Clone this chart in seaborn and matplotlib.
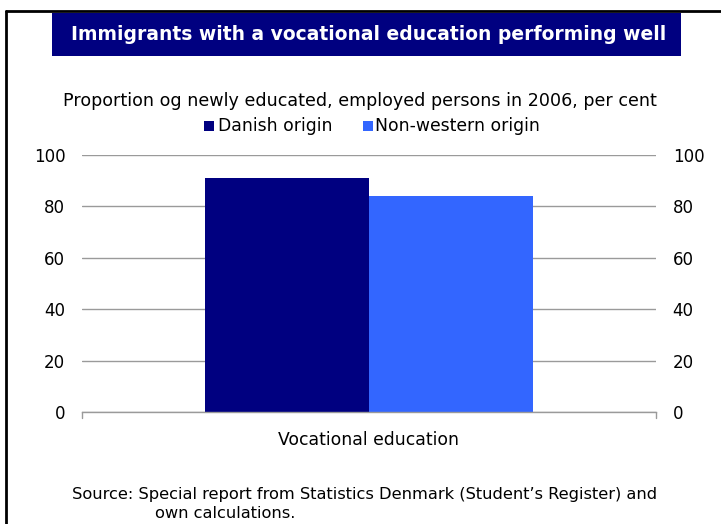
import matplotlib
matplotlib.use("Agg")
import matplotlib.pyplot as plt
from matplotlib.lines import Line2D
from matplotlib.patches import Rectangle
import seaborn as sns
import pandas as pd

# Data
categories = ["Vocational education"]
series_names = ["Danish origin", "Non-western origin"]
danish_origin = [91]
non_western_origin = [84]
y_ticks = [0, 20, 40, 60, 80, 100]

colors = ["#000080", "#3366FF"]

df = pd.DataFrame({
    "category": categories * 2,
    "origin": [series_names[0]] * len(categories) + [series_names[1]] * len(categories),
    "value": danish_origin + non_western_origin,
})

sns.set_theme(style="white")
plt.rcParams["font.family"] = ["DejaVu Sans"]

W, H = 721, 524
fig = plt.figure(figsize=(W / 100, H / 100), dpi=100)

# Plot area in pixel coordinates
x0, x1 = 82, 656
y_top, y_bot = 155, 412
ax = fig.add_axes([x0 / W, 1 - y_bot / H, (x1 - x0) / W, (y_bot - y_top) / H])

sns.barplot(data=df, x="category", y="value", hue="origin", palette=colors,
            width=0.571, saturation=1, ax=ax, legend=False, linewidth=0)

ax.set_ylim(0, 100)
ax.set_xlim(-0.5, 0.5)
ax.set_yticks(y_ticks)
ax.yaxis.grid(True, color="#9a9a9a", linewidth=1)
ax.set_axisbelow(True)
for s in ["left", "right", "top"]:
    ax.spines[s].set_visible(False)
ax.spines["bottom"].set_color("#9a9a9a")
ax.spines["bottom"].set_linewidth(1)

ax.tick_params(axis="y", length=0, labelsize=12, pad=12, colors="black",
               labelright=True, right=False)
ax.tick_params(axis="x", length=0, labelsize=12.4, pad=14, colors="black")
ax.set_xlabel("")
ax.set_ylabel("")

# End ticks on the category axis
for xp in (x0, x1):
    fig.add_artist(Line2D([xp / W, xp / W], [1 - y_bot / H, 1 - (y_bot + 6) / H],
                          color="#9a9a9a", linewidth=1))

# Outer frame (left and top edges)
fig.add_artist(Line2D([5.5 / W, 5.5 / W], [0, 1 - 11 / H], color="black", linewidth=2))
fig.add_artist(Line2D([5.5 / W, 1], [1 - 11 / H, 1 - 11 / H], color="black", linewidth=2))

# Title banner
fig.add_artist(Rectangle((52 / W, 1 - 56 / H), (681 - 52) / W, (56 - 13) / H,
                         facecolor="#000080", edgecolor="none"))
fig.text(369 / W, 1 - 35 / H, "Immigrants with a vocational education performing well",
         color="white", fontsize=13.5, fontweight="bold", ha="center", va="center")

# Subtitle
fig.text(360 / W, 1 - 101 / H,
         "Proportion og newly educated, employed persons in 2006, per cent",
         color="black", fontsize=12.6, ha="center", va="center")

# Legend
leg_y = 126
for (sx, tx, label, c) in [(204, 218, series_names[0], colors[0]),
                          (363, 375, series_names[1], colors[1])]:
    fig.add_artist(Rectangle((sx / W, 1 - (leg_y + 5) / H), 10 / W, 10 / H,
                             facecolor=c, edgecolor="none"))
    fig.text(tx / W, 1 - leg_y / H, label, color="black", fontsize=12.4,
             ha="left", va="center")

# Source note
fig.text(72 / W, 1 - 495 / H,
         "Source: Special report from Statistics Denmark (Student\u2019s Register) and",
         color="black", fontsize=11.7, ha="left", va="center")
fig.text(155 / W, 1 - 514 / H, "own calculations.",
         color="black", fontsize=11.7, ha="left", va="center")

fig.savefig("out.png", dpi=100)
